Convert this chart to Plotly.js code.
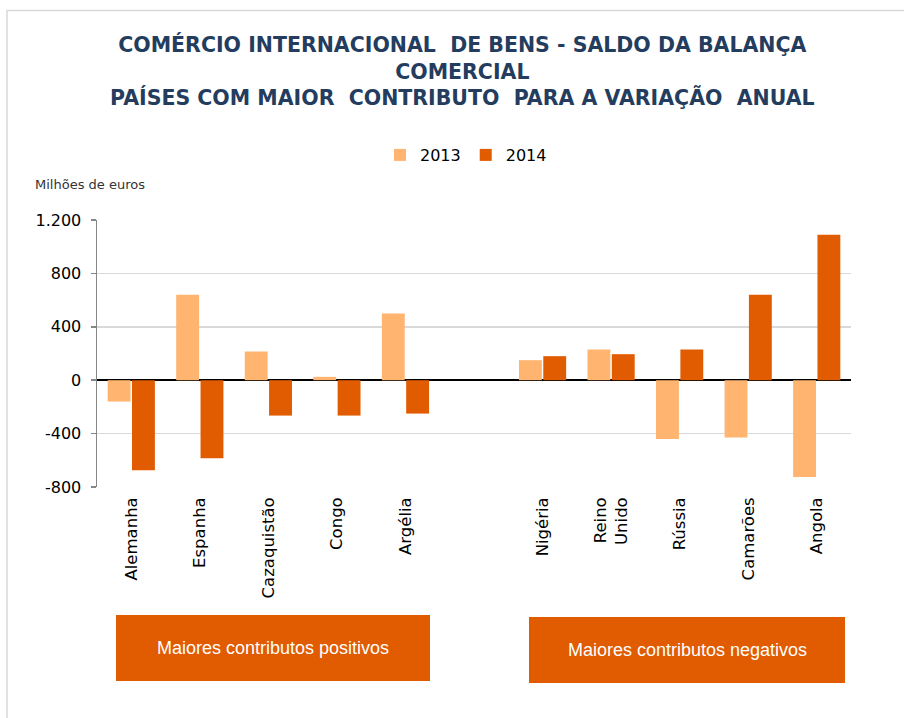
<!DOCTYPE html>
<html>
<head>
<meta charset="utf-8">
<script src="https://cdn.plot.ly/plotly-3.0.1.min.js"></script>
<style>
html,body{margin:0;padding:0;background:#fff;}
#chart{width:904px;height:718px;}
</style>
</head>
<body>
<div id="chart"></div>
<script>
const categories = ['Alemanha','Espanha','Cazaquistão','Congo','Argélia',' ','Nigéria','Reino<br>Unido','Rússia','Camarões','Angola'];
const values2013 = [-160, 640, 215, 25, 500, null, 150, 230, -440, -430, -725];
const values2014 = [-675, -585, -265, -265, -250, null, 180, 195, 230, 640, 1090];
const seriesNames = ['2013','2014'];
const yTickVals = [-800, -400, 0, 400, 800, 1200];
const yTickText = ['-800','-400','0','400','800','1.200'];
const titleLines = ['COMÉRCIO INTERNACIONAL  DE BENS - SALDO DA BALANÇA','COMERCIAL','PAÍSES COM MAIOR  CONTRIBUTO  PARA A VARIAÇÃO  ANUAL'];
const unitLabel = 'Milhões de euros';
const groupLabels = ['Maiores contributos positivos','Maiores contributos negativos'];

const C13 = '#FFB46F', C14 = '#E15B00';
const L = 97, R = 53, T = 220, B = 231, W = 904, H = 718;
const pw = W - L - R, ph = H - T - B;
const px = x => (x - L) / pw;
const py = y => (H - B - y) / ph;

const traces = [
  {type:'bar', name:seriesNames[0], x:categories, y:values2013, marker:{color:C13}, hoverinfo:'x+y'},
  {type:'bar', name:seriesNames[1], x:categories, y:values2014, marker:{color:C14}, hoverinfo:'x+y'}
];

const boxes = [[116,430,615,681],[529,845,617,683]];
const shapes = [
  {type:'rect', xref:'paper', yref:'paper', x0:px(7), x1:px(912), y0:py(10.5), y1:py(730),
   line:{color:'#D9D9D9', width:1.5}, fillcolor:'rgba(0,0,0,0)', layer:'below'}
];
const annotations = [
  {xref:'paper', yref:'paper', x:px(462), y:py(71), xanchor:'center', yanchor:'middle', showarrow:false,
   text:'<b>' + titleLines.join('<br>') + '</b>', align:'center',
   font:{family:'DejaVu Sans', size:20.5, color:'#243D5E'}},
  {xref:'paper', yref:'paper', x:px(33), y:py(185), xanchor:'left', yanchor:'middle', showarrow:false,
   text:unitLabel, font:{family:'DejaVu Sans', size:13, color:'#333333'}}
];
boxes.forEach((b,i)=>{
  shapes.push({type:'rect', xref:'paper', yref:'paper', x0:px(b[0]), x1:px(b[1]), y0:py(b[2]), y1:py(b[3]),
    line:{width:0}, fillcolor:C14});
  annotations.push({xref:'paper', yref:'paper', x:px((b[0]+b[1])/2), y:py((b[2]+b[3])/2),
    xanchor:'center', yanchor:'middle', showarrow:false, text:groupLabels[i],
    font:{family:'Liberation Sans', size:18, color:'#FFFFFF'}});
});

const layout = {
  width:W, height:H,
  margin:{l:L, r:R, t:T, b:B},
  paper_bgcolor:'#FFFFFF', plot_bgcolor:'#FFFFFF',
  separators:',.',
  showlegend:true,
  legend:{orientation:'h', xref:'paper', yref:'paper', x:px(466), xanchor:'center', y:py(155), yanchor:'middle',
    font:{family:'DejaVu Sans', size:16, color:'#000000'}, traceorder:'normal', bgcolor:'rgba(0,0,0,0)'},
  barmode:'group', bargap:0.29, bargroupgap:0.06,
  xaxis:{type:'category', categoryorder:'array', categoryarray:categories,
    tickangle:-90, tickfont:{family:'DejaVu Sans', size:16.5, color:'#000000'},
    showgrid:false, showline:false, ticks:'', zeroline:false, fixedrange:true, ticklabelstandoff:6},
  yaxis:{range:[-800,1200], tickvals:yTickVals, ticktext:yTickText,
    tickfont:{family:'DejaVu Sans', size:16, color:'#000000'},
    showgrid:true, gridcolor:'#D9D9D9', gridwidth:1.5,
    zeroline:true, zerolinecolor:'#000000', zerolinewidth:1.5,
    showline:true, linecolor:'#868686', linewidth:1.5,
    ticks:'outside', ticklen:5, tickcolor:'#868686', tickwidth:1.5,
    ticklabelstandoff:6, fixedrange:true},
  shapes:shapes,
  annotations:annotations
};

Plotly.newPlot('chart', traces, layout, {displayModeBar:false, staticPlot:true});
</script>
</body>
</html>
